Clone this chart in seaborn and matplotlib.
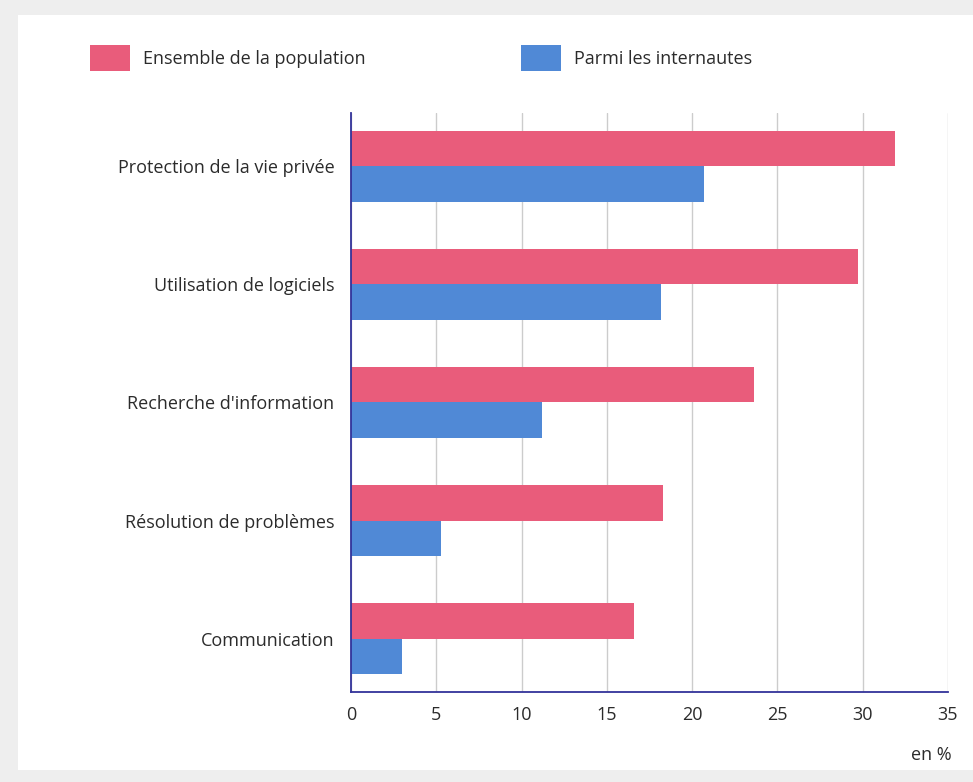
import pandas as pd
import matplotlib
matplotlib.use('Agg')
import matplotlib.pyplot as plt
import seaborn as sns
from matplotlib.patches import Rectangle

# Data
categories = ['Protection de la vie privée', 'Utilisation de logiciels',
              "Recherche d'information", 'Résolution de problèmes', 'Communication']
population = [31.9, 29.7, 23.6, 18.3, 16.6]
internautes = [20.7, 18.2, 11.2, 5.3, 3.0]
series_names = ['Ensemble de la population', 'Parmi les internautes']
x_ticks = [0, 5, 10, 15, 20, 25, 30, 35]

df = pd.DataFrame({
    'categorie': categories * 2,
    'valeur': population + internautes,
    'serie': [series_names[0]] * len(categories) + [series_names[1]] * len(categories),
})

sns.set_theme(style='white')
plt.rcParams['font.family'] = ['Open Sans', 'DejaVu Sans']

fig = plt.figure(figsize=(9.73, 7.82), dpi=100, facecolor='#eeeeee')
# white panel on the light grey page
fig.patches.append(Rectangle((0.018, 0.0153), 0.982, 0.9655, transform=fig.transFigure,
                             facecolor='white', edgecolor='none', zorder=-10))
ax = fig.add_axes([0.3607, 0.1151, 0.6136, 0.7404])
ax.set_facecolor('none')
ax.set_zorder(1)

palette = {series_names[0]: '#E95C7B', series_names[1]: '#5089D6'}
sns.barplot(data=df, x='valeur', y='categorie', hue='serie', palette=palette,
            width=0.6, saturation=1, linewidth=0, ax=ax, orient='h')

ax.set_xlim(0, 35)
ax.set_ylim(4.45, -0.45)
ax.set_xticks(x_ticks)
ax.set_xticklabels([str(t) for t in x_ticks])
ax.set_xlabel('')
ax.set_ylabel('')
ax.grid(True, axis='x', color='#cccccc', linewidth=1)
ax.set_axisbelow(True)
ax.tick_params(axis='both', length=0, labelsize=13, colors='#2b2b2b')
ax.tick_params(axis='x', pad=10)
ax.tick_params(axis='y', pad=12)
for side in ['top', 'right']:
    ax.spines[side].set_visible(False)
for side in ['left', 'bottom']:
    ax.spines[side].set_color('#33339a')
    ax.spines[side].set_linewidth(1.3)

handles, labels = ax.get_legend_handles_labels()
ax.get_legend().remove()
fig.legend(handles, labels, loc='center left', bbox_to_anchor=(0.0925, 0.926),
           bbox_transform=fig.transFigure, ncol=2, frameon=False, fontsize=13,
           handlelength=2.2, handleheight=1.8, handletextpad=0.75,
           columnspacing=8.6, borderpad=0, borderaxespad=0, labelcolor='#2b2b2b')

fig.text(0.978, 0.035, 'en %', ha='right', va='center', fontsize=13, color='#2b2b2b')

fig.savefig('out.png', dpi=100, facecolor=fig.get_facecolor())
